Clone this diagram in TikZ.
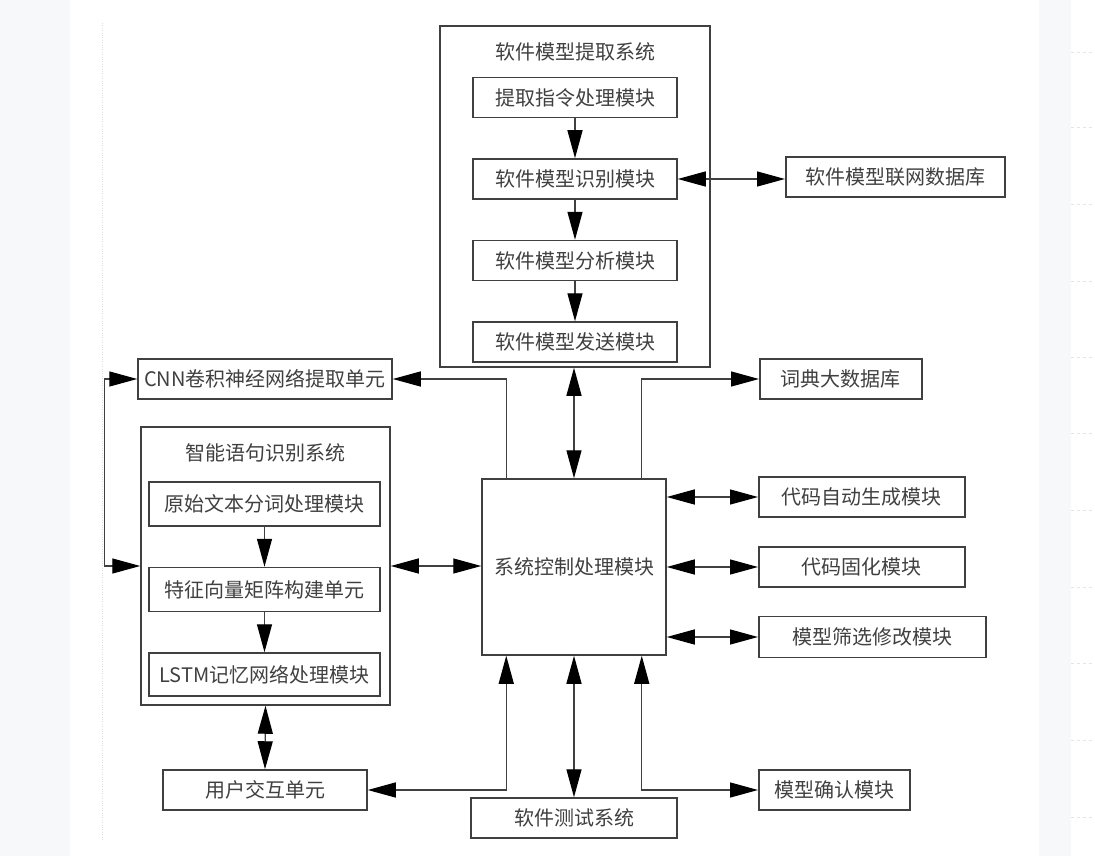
\documentclass[tikz,border=0pt]{standalone}
\usepackage{fontspec}
\newfontfamily\cjk{Noto Sans CJK SC}
\usepackage{tikz}
\usetikzlibrary{positioning}
\usetikzlibrary{arrows.meta}

\definecolor{side}{HTML}{F7F8FA}
\definecolor{ink}{HTML}{404040}

\begin{document}
\begin{tikzpicture}[x=1pt, y=-1pt]

\tikzstyle{every node}=[font=\cjk\fontsize{20}{24}\selectfont, text=ink]
\tikzstyle{box}=[draw=ink, line width=1.5, inner sep=0, minimum height=40]
\tikzstyle{link}=[draw=ink, line width=1.3, -{Triangle[length=28pt, width=15pt, black]}]
\tikzstyle{dlink}=[draw=ink, line width=1.3, {Triangle[length=28pt, width=15pt, black]}-{Triangle[length=28pt, width=15pt, black]}]

% page %
\useasboundingbox (0,0) rectangle (1095,856);
\fill[white] (0,0) rectangle (1095,856);
\fill[side] (0,0) rectangle (70,856);
\fill[side] (1039,0) rectangle (1071,856);
\draw[gray!25, dotted] (102,23) -- (102,840);
\foreach \y in {52,127,204,281,357,433,510,587,663,740,817}
  \draw[gray!20, dashed] (1071,\y) -- (1095,\y);

% nodes %
\node[box, minimum width=270, minimum height=341] (sa) at (575,196.5) {};
\node (sat) at (575,52) {软件模型提取系统};
\node[box, minimum width=204] (a1) at (575,97.5) {提取指令处理模块};
\node[box, minimum width=204, below=40pt of a1] (a2) {软件模型识别模块};
\node[box, minimum width=204, below=40pt of a2] (a3) {软件模型分析模块};
\node[box, minimum width=204, below=40pt of a3] (a4) {软件模型发送模块};
\node[box, minimum width=219, anchor=west] (netdb) at (785,177) {软件模型联网数据库};

\node[box, minimum width=254] (cnn) at (265,379) {CNN卷积神经网络提取单元};
\node[box, minimum width=162, anchor=west] (dict) at (759,379) {词典大数据库};

\node[box, minimum width=249, minimum height=278] (sb) at (265.5,566) {};
\node (sbt) at (265,453) {智能语句识别系统};
\node[box, minimum width=231, minimum height=44] (b1) at (264.5,504) {原始文本分词处理模块};
\node[box, minimum width=231, minimum height=44, below=40pt of b1] (b2) {特征向量矩阵构建单元};
\node[box, minimum width=231, minimum height=43, below=40pt of b2] (b3) {LSTM记忆网络处理模块};

\node[box, minimum width=184, minimum height=176] (ctrl) at (574,567) {系统控制处理模块};
\node[box, minimum width=206, anchor=west] (gen) at (758,497) {代码自动生成模块};
\node[box, minimum width=206, anchor=west] (fix) at (758,567) {代码固化模块};
\node[box, minimum width=227, minimum height=41, anchor=west] (filt) at (758,637) {模型筛选修改模块};
\node[box, minimum width=151, anchor=west] (conf) at (758,790) {模型确认模块};

\node[box, minimum width=206] (test) at (574,818) {软件测试系统};
\node[box, minimum width=204] (user) at (265,790) {用户交互单元};

% edges %
\draw[link] (a1) -- (a2);
\draw[link] (a2) -- (a3);
\draw[link] (a3) -- (a4);
\draw[dlink] (a2.east) -- (a2.east -| netdb.west);
\draw[dlink] (ctrl.north |- sa.south) -- (ctrl.north);
\draw[link] ([xshift=25pt]ctrl.north west) |- (cnn.east);
\draw[link] ([xshift=-25pt]ctrl.north east) |- (dict.west);

\draw[link] (b1) -- (b2);
\draw[link] (b2) -- (b3);
\draw[dlink] (cnn.west) -- ++(-33,0) |- (sb.west);
\draw[dlink] (sb.east) -- (sb.east -| ctrl.west);
\draw[dlink] (sb.south) -- (user.north);

\draw[dlink] (ctrl.east |- gen.west) -- (gen.west);
\draw[dlink] (ctrl.east |- fix.west) -- (fix.west);
\draw[dlink] (ctrl.east |- filt.west) -- (filt.west);
\draw[dlink] ([xshift=-25pt]ctrl.south east) |- (conf.west);
\draw[dlink] ([xshift=25pt]ctrl.south west) |- (user.east);
\draw[dlink] (ctrl.south) -- (test.north);

\end{tikzpicture}
\end{document}
